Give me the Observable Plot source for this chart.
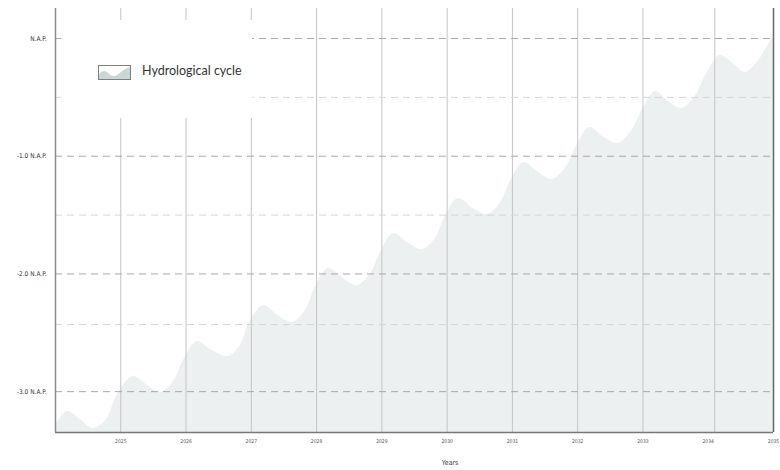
<!DOCTYPE html>
<html>
<head>
<meta charset="utf-8">
<script src="https://cdn.jsdelivr.net/npm/d3@7"></script>
<script src="https://cdn.jsdelivr.net/npm/@observablehq/plot@0.6"></script>
<style>
  html, body { margin: 0; padding: 0; background: #fff; }
  #wrap { position: relative; width: 780px; height: 470px; }
  #legend { position: absolute; left: 61px; top: 20px; width: 191px; height: 98px; background: #fff;
            font-family: Lato, "Open Sans", sans-serif; }
  #legend svg { position: absolute; left: 37px; top: 45px; }
  #legend span { position: absolute; left: 81px; top: 43px; font-size: 12.5px; color: #333; white-space: nowrap; }
</style>
</head>
<body>
<div id="wrap"></div>
<script>
// ---- data ----
const yearTicks = [2025, 2026, 2027, 2028, 2029, 2030, 2031, 2032, 2033, 2034, 2035];
const gridYears = [2025, 2026, 2027, 2028, 2029, 2030, 2031, 2032, 2033, 2034.1];
const napTicks = [0, -1, -2, -3];
const halfLines = [-0.5, -1.5, -2.43];
const seriesName = "Hydrological cycle";
const xTitle = "Years";

const cycleYear = [
  2024.00, 2024.18, 2024.38, 2024.57, 2024.77, 2024.95,
  2025.19, 2025.41, 2025.61, 2025.81, 2025.96,
  2026.17, 2026.40, 2026.65, 2026.83, 2026.97,
  2027.19, 2027.41, 2027.63, 2027.83, 2027.98,
  2028.18, 2028.41, 2028.62, 2028.82, 2028.98,
  2029.18, 2029.41, 2029.62, 2029.82, 2029.97,
  2030.17, 2030.40, 2030.62, 2030.81, 2030.97,
  2031.17, 2031.40, 2031.61, 2031.81, 2031.98,
  2032.18, 2032.41, 2032.61, 2032.81, 2032.99,
  2033.19, 2033.39, 2033.59, 2033.79, 2033.97,
  2034.18, 2034.38, 2034.57, 2034.75, 2034.87, 2035.00
];
const cycleLevel = [
  -3.288, -3.169, -3.237, -3.313, -3.246, -3.025,
  -2.872, -2.948, -3.008, -2.914, -2.736,
  -2.574, -2.651, -2.702, -2.608, -2.413,
  -2.268, -2.353, -2.413, -2.311, -2.116,
  -1.954, -2.039, -2.099, -2.005, -1.818,
  -1.657, -1.742, -1.793, -1.699, -1.512,
  -1.359, -1.444, -1.495, -1.402, -1.215,
  -1.054, -1.138, -1.198, -1.105, -0.918,
  -0.756, -0.841, -0.892, -0.799, -0.612,
  -0.450, -0.535, -0.595, -0.501, -0.306,
  -0.144, -0.212, -0.289, -0.204, -0.102, 0.025
];

const yMin = -3.347, yMax = 0.255;
const xMin = 2024, xMax = 2035;
const data = cycleYear.map((y, i) => ({year: y, level: cycleLevel[i]}));

const chart = Plot.plot({
  width: 780,
  height: 470,
  marginLeft: 55,
  marginRight: 7,
  marginTop: 8,
  marginBottom: 38,
  style: {background: "#fff", fontFamily: "'DejaVu Sans Condensed', 'DejaVu Sans', sans-serif"},
  x: {domain: [xMin, xMax], label: null},
  y: {domain: [yMin, yMax], label: null},
  marks: [
    Plot.areaY(data, {x: "year", y1: () => yMin, y2: "level", curve: "catmull-rom", fill: "#edf0f0"}),
    Plot.ruleX(gridYears, {stroke: "#c4c4c4", strokeWidth: 1}),
    Plot.ruleY(halfLines, {stroke: "#d6d6d6", strokeWidth: 1, strokeDasharray: "7,5"}),
    Plot.ruleY(napTicks, {stroke: "#a8a8a8", strokeWidth: 1, strokeDasharray: "7,5"}),
    Plot.ruleX([xMin], {stroke: "#8a8a8a", strokeWidth: 1.5}),
    Plot.ruleX([xMax], {stroke: "#666", strokeWidth: 1.5}),
    Plot.ruleY([yMin], {stroke: "#777", strokeWidth: 1.5}),
    Plot.axisX({ticks: yearTicks, tickFormat: d => String(d), tickSize: 0, tickPadding: 7,
                fontSize: 5, fill: "#555", label: null}),
    Plot.axisY({ticks: napTicks, tickFormat: d => d === 0 ? "N.A.P." : d.toFixed(1) + " N.A.P.",
                tickSize: 0, tickPadding: 9, fontSize: 6.5, fill: "#333", label: null}),
    Plot.text([xTitle], {x: () => 2030, frameAnchor: "bottom", dx: 3, dy: 32, fontSize: 7, fill: "#444", text: d => d})
  ]
});

const wrap = document.getElementById("wrap");
wrap.appendChild(chart);

const legend = document.createElement("div");
legend.id = "legend";
legend.innerHTML = `<svg width="33" height="15" viewBox="0 0 33 15">
  <path d="M0.5,14.5 L0.5,10 C4,5 7,5 10,8 C13,11 16,12 19,10 C24,6 28,3 32.5,1.5 L32.5,14.5 Z" fill="#cbd7d6"/>
  <rect x="0.5" y="0.5" width="32" height="14" fill="none" stroke="#808080" stroke-width="1"/>
</svg><span></span>`;
legend.querySelector("span").textContent = seriesName;
wrap.appendChild(legend);
</script>
</body>
</html>
